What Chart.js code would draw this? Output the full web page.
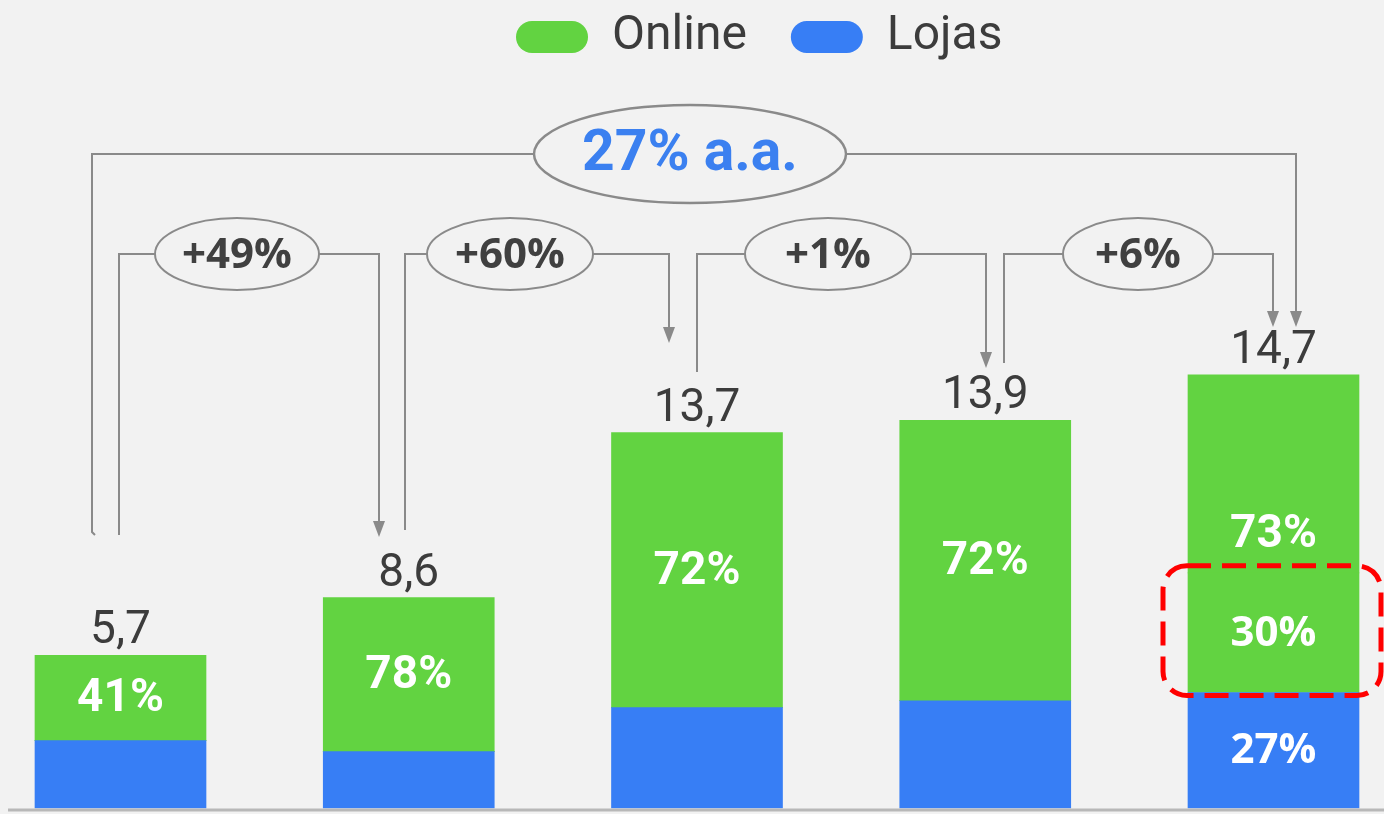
<!DOCTYPE html>
<html>
<head>
<meta charset="utf-8">
<script src="https://cdn.jsdelivr.net/npm/chart.js@4.4.1/dist/chart.umd.min.js"></script>
<style>
  html, body { margin: 0; padding: 0; background: #f2f2f2; }
  #wrap { width: 1384px; height: 814px; position: relative; }
</style>
</head>
<body>
<div id="wrap"><canvas id="chart"></canvas></div>
<script>
// categories are not printed in the picture
const categories = ['P1', 'P2', 'P3', 'P4', 'P5'];

// segment heights (same unit for all)
const lojas = [2.45, 2.05, 3.65, 3.9, 4.2];
const onlineDestaque = [0, 0, 0, 0, 4.35];
const online = [3.1, 5.6, 10.0, 10.2, 7.2];

const totalLabels = ['5,7', '8,6', '13,7', '13,9', '14,7'];
const onlineLabels = ['41%', '78%', '72%', '72%', '73%'];
const destaqueLabels = ['', '', '', '', '30%'];
const lojasLabels = ['', '', '', '', '27%'];
const growthLabels = ['+49%', '+60%', '+1%', '+6%'];
const cagrLabel = '27% a.a.';

const GREEN = '#62d341';
const BLUE = '#377ef5';
const GREY = '#8a8a8a';
const TEXT = '#3c3c3c';

// bracket geometry for the growth call-outs (pixels)
const brackets = [
  { x1: 119, y1: 535, cx: 237, rx: 82, x2: 379, y2: 537 },
  { x1: 405, y1: 530, cx: 510, rx: 83, x2: 669, y2: 343 },
  { x1: 697, y1: 372, cx: 828, rx: 83, x2: 986, y2: 368 },
  { x1: 1004, y1: 363, cx: 1138, rx: 75, x2: 1273, y2: 327 }
];
const bigBracket = { x1: 92, y1: 535, cx: 690, cy: 154, rx: 156, ry: 49, x2: 1296, y2: 327 };

function arrowDown(ctx, x, tipY) {
  ctx.beginPath();
  ctx.moveTo(x - 6, tipY - 16);
  ctx.lineTo(x + 6, tipY - 16);
  ctx.lineTo(x, tipY);
  ctx.closePath();
  ctx.fill();
}

function ellipseLabel(ctx, cx, cy, rx, ry, text, font, color) {
  ctx.beginPath();
  ctx.ellipse(cx, cy, rx, ry, 0, 0, Math.PI * 2);
  ctx.stroke();
  ctx.fillStyle = color;
  ctx.font = font;
  ctx.textAlign = 'center';
  ctx.textBaseline = 'middle';
  ctx.fillText(text, cx, cy + 2);
}

const overlay = {
  id: 'overlay',
  afterLayout(chart) {
    // move the legend to where it sits in the picture
    const lg = chart.legend;
    lg.left += 351.5; lg.right += 351.5;
    lg.top -= 31; lg.bottom -= 31;
  },
  afterDatasetsDraw(chart) {
    const ctx = chart.ctx;
    const mLojas = chart.getDatasetMeta(0);
    const mDest = chart.getDatasetMeta(1);
    const mOnline = chart.getDatasetMeta(2);
    const y0 = chart.scales.y.getPixelForValue(0);
    ctx.save();

    // baseline
    ctx.strokeStyle = '#b8b8b8';
    ctx.lineWidth = 3;
    ctx.beginPath();
    ctx.moveTo(8, y0 + 2);
    ctx.lineTo(1384, y0 + 2);
    ctx.stroke();

    // totals above the bars
    ctx.fillStyle = TEXT;
    ctx.font = '46px Roboto';
    ctx.textAlign = 'center';
    ctx.textBaseline = 'alphabetic';
    mOnline.data.forEach((el, i) => {
      ctx.fillText(totalLabels[i], el.x, el.y - 12);
    });

    // labels inside the bars
    ctx.fillStyle = '#ffffff';
    ctx.textBaseline = 'middle';
    ctx.font = 'bold 46px Roboto';
    mOnline.data.forEach((el, i) => {
      const yy = i === 4 ? el.base - 37 : (el.y + el.base) / 2 + 2;
      ctx.fillText(onlineLabels[i], el.x, yy);
    });
    ctx.font = 'bold 42px "Open Sans"';
    mDest.data.forEach((el, i) => {
      if (destaqueLabels[i]) ctx.fillText(destaqueLabels[i], el.x, (el.y + el.base) / 2 + 1);
    });
    mLojas.data.forEach((el, i) => {
      if (lojasLabels[i]) ctx.fillText(lojasLabels[i], el.x, (el.y + el.base) / 2 + 1);
    });

    // growth brackets
    ctx.strokeStyle = GREY;
    ctx.fillStyle = GREY;
    ctx.lineWidth = 2;
    const ly = 254;
    brackets.forEach((b, i) => {
      ctx.beginPath();
      ctx.moveTo(b.x1, b.y1);
      ctx.lineTo(b.x1, ly);
      ctx.lineTo(b.cx - b.rx, ly);
      ctx.moveTo(b.cx + b.rx, ly);
      ctx.lineTo(b.x2, ly);
      ctx.lineTo(b.x2, b.y2 - 14);
      ctx.stroke();
      ctx.fillStyle = GREY;
      arrowDown(ctx, b.x2, b.y2);
      ctx.strokeStyle = GREY;
      ellipseLabel(ctx, b.cx, ly, b.rx, 36, growthLabels[i], 'bold 42px "Open Sans"', '#404040');
    });

    const g = bigBracket;
    ctx.strokeStyle = GREY;
    ctx.beginPath();
    ctx.moveTo(g.x1 + 3, g.y1);
    ctx.lineTo(g.x1, g.y1 - 3);
    ctx.lineTo(g.x1, g.cy);
    ctx.lineTo(g.cx - g.rx, g.cy);
    ctx.moveTo(g.cx + g.rx, g.cy);
    ctx.lineTo(g.x2, g.cy);
    ctx.lineTo(g.x2, g.y2 - 14);
    ctx.stroke();
    ctx.fillStyle = GREY;
    arrowDown(ctx, g.x2, g.y2);
    ctx.lineWidth = 2.5;
    ellipseLabel(ctx, g.cx, g.cy, g.rx, g.ry, cagrLabel, 'bold 57px Roboto', '#3b80f0');

    // red dashed highlight around the 30% segment
    const hl = mDest.data[4];
    const half = hl.width / 2;
    ctx.strokeStyle = '#ff0000';
    ctx.lineWidth = 5;
    ctx.setLineDash([24, 11]);
    ctx.beginPath();
    ctx.roundRect(hl.x - half - 25, hl.y - 7, hl.width + 47, hl.base - hl.y + 10, 24);
    ctx.stroke();
    ctx.restore();
  }
};

new Chart(document.getElementById('chart'), {
  type: 'bar',
  data: {
    labels: categories,
    datasets: [
      { label: 'Lojas', data: lojas, backgroundColor: BLUE, barThickness: 171, clip: false },
      { label: 'Destaque', data: onlineDestaque, backgroundColor: GREEN, barThickness: 171, clip: false },
      { label: 'Online', data: online, backgroundColor: GREEN, barThickness: 171, clip: false }
    ]
  },
  options: {
    responsive: true,
    maintainAspectRatio: false,
    animation: false,
    layout: { padding: { left: 120.5, right: 110.5, top: 0, bottom: 6 } },
    scales: {
      x: { stacked: true, display: false, offset: false },
      y: { stacked: true, display: false, min: 0, max: 25.67 }
    },
    plugins: {
      tooltip: { enabled: false },
      legend: {
        position: 'top',
        align: 'start',
        reverse: true,
        labels: {
          filter: (item) => item.datasetIndex !== 1,
          font: { family: 'Roboto', size: 48 },
          color: TEXT,
          boxWidth: 72,
          boxHeight: 32,
          useBorderRadius: true,
          borderRadius: 16,
          padding: 44
        }
      }
    }
  },
  plugins: [overlay]
});
</script>
</body>
</html>
